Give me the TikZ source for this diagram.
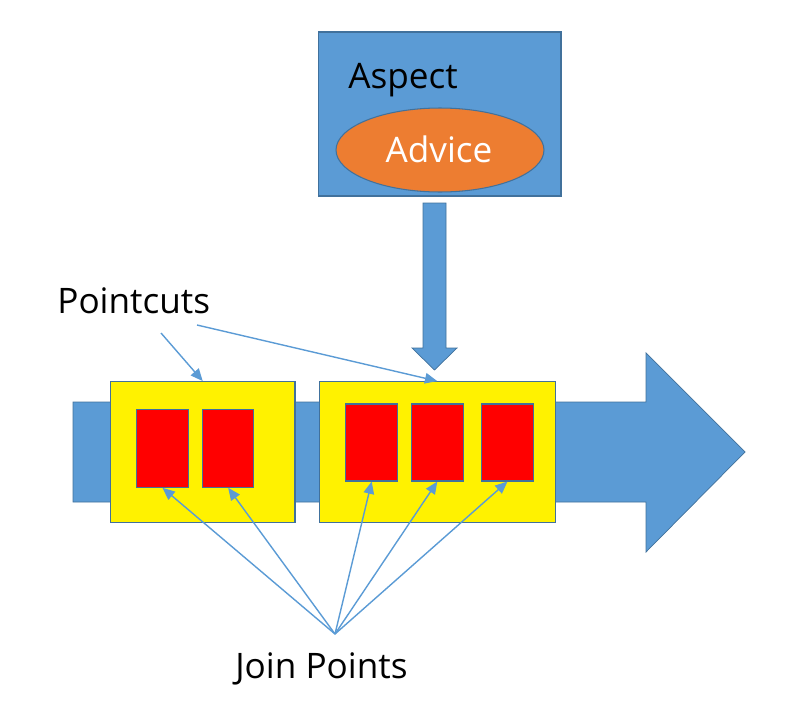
\documentclass[tikz,border=0pt]{standalone}
\usepackage{fontspec}
\setmainfont{Open Sans}
\usetikzlibrary{shapes.geometric,arrows.meta}
\definecolor{officeblue}{HTML}{5B9BD5}
\definecolor{edgeblue}{HTML}{41719C}
\definecolor{adviceorange}{HTML}{ED7D31}

\begin{document}
\begin{tikzpicture}[x=0.02cm,y=0.02cm]
\tikzstyle{every node}+=[inner sep=0pt]
\tikzstyle{txt}=[font=\fontsize{20}{24}\selectfont]
\tikzstyle{box}=[draw=edgeblue, line width=0.6pt, rectangle]
\tikzstyle{jp}=[box, fill=red, minimum width=1.03cm]
\tikzstyle{pointer}=[officeblue, line width=0.8pt, -{Triangle[length=7pt,width=6pt]}]
\useasboundingbox (0,0) rectangle (804,-720);
% aspect and advice
\node [box, fill=officeblue, minimum width=4.86cm, minimum height=3.28cm] (aspect) at (439.5,-114) {};
\node [txt, anchor=base west] (aspecttext) at (348,-88) {Aspect};
\node [ellipse, draw=edgeblue, line width=0.6pt, fill=adviceorange, minimum width=4.16cm, minimum height=1.68cm] (advice) at (440,-150) {};
\node [txt, white, anchor=base] (advicetext) at (439,-162) {Advice};
% weaving arrow
\fill [officeblue, draw=edgeblue, line width=0.4pt] (423,-203) -- (446,-203) -- (446,-348) -- (457,-348) -- (434.5,-370) -- (412,-348) -- (423,-348) -- cycle;
% program flow
\fill [officeblue, draw=edgeblue, line width=0.4pt] (73,-402) -- (646,-402) -- (646,-353) -- (745,-452) -- (646,-552) -- (646,-502) -- (73,-502) -- cycle;
% pointcuts
\node [box, fill=yellow, minimum width=3.69cm, minimum height=2.81cm] (cut1) at (202.75,-451.85) {};
\node [box, fill=yellow, minimum width=4.73cm, minimum height=2.81cm] (cut2) at (437.25,-451.85) {};
% join points
\node [jp, minimum height=1.56cm] (jp1) at (162.5,-448.3) {};
\node [jp, minimum height=1.56cm] (jp2) at (228.2,-448.3) {};
\node [jp, minimum height=1.54cm] (jp3) at (371.7,-442.5) {};
\node [jp, minimum height=1.54cm] (jp4) at (437.3,-442.5) {};
\node [jp, minimum height=1.54cm] (jp5) at (507.5,-442.5) {};
% labels
\node [txt, anchor=base west] (pointcuts) at (57,-313) {Pointcuts};
\node [txt, anchor=base west] (joinpoints) at (235,-678) {Join Points};
\coordinate (pc1) at (161,-333);
\coordinate (pc2) at (197,-325);
\coordinate (jpfoot) at (335,-634);
\draw [pointer] (pc1) -- (cut1.north);
\draw [pointer] (pc2) -- (cut2.north);
\foreach \j in {1,...,5}
  \draw [pointer] (jpfoot) -- (jp\j.south);
\end{tikzpicture}
\end{document}
